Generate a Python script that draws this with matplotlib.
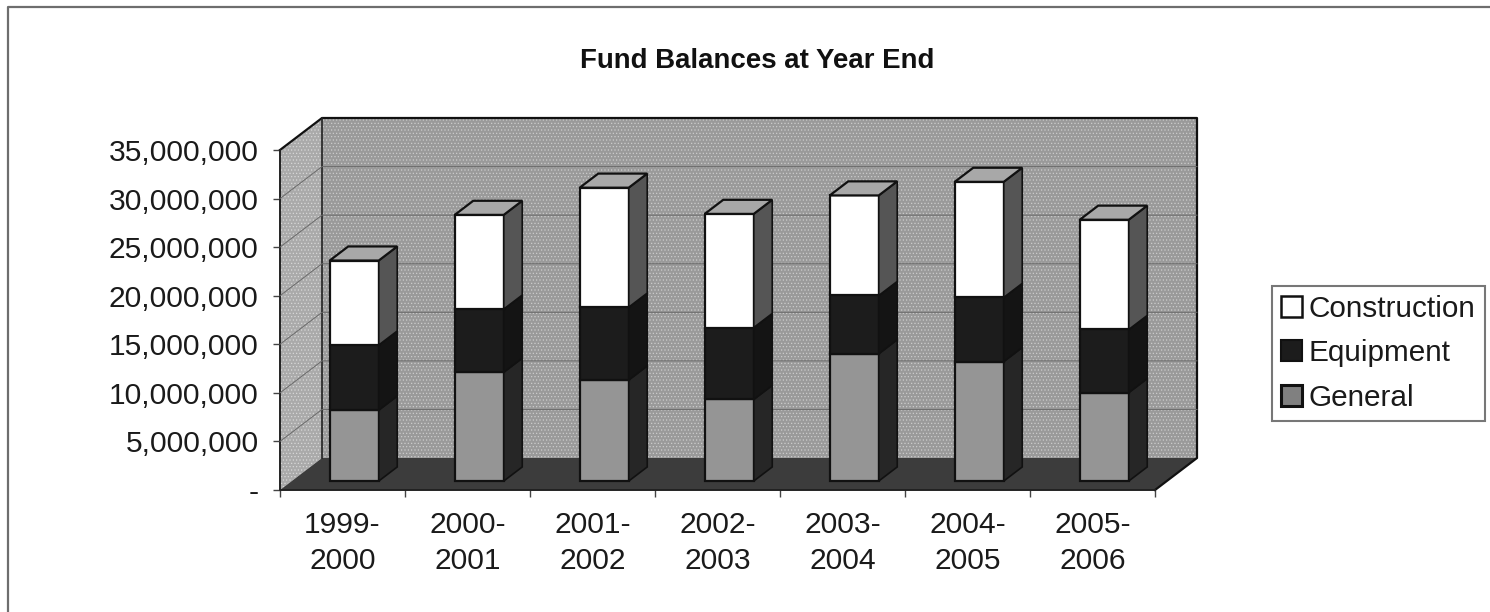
import matplotlib
matplotlib.use('Agg')
import matplotlib.pyplot as plt
import numpy as np
from matplotlib.lines import Line2D
from matplotlib.patches import Patch

plt.rcParams['font.family'] = ['Liberation Sans', 'DejaVu Sans']
plt.rcParams['hatch.linewidth'] = 0.5

# Valores
years = ['1999-\n2000', '2000-\n2001', '2001-\n2002', '2002-\n2003',
         '2003-\n2004', '2004-\n2005', '2005-\n2006']
general = np.array([7.3, 11.2, 10.4, 8.4, 13.1, 12.3, 9.1]) * 1e6
equipment = np.array([6.7, 6.5, 7.5, 7.4, 6.0, 6.6, 6.5]) * 1e6
construction = np.array([8.7, 9.7, 12.3, 11.7, 10.3, 11.9, 11.3]) * 1e6
y_ticks = [0, 5000000, 10000000, 15000000, 20000000, 25000000, 30000000, 35000000]

W, H = 1490, 612
fig = plt.figure(figsize=(W / 100, H / 100), dpi=100)
ax = fig.add_axes([280 / W, 1 - 490 / H, 875 / W, 340 / H])
ax.set_xlim(0, len(years))
ax.set_ylim(0, 35e6)
for s in ax.spines.values():
    s.set_visible(False)
ax.patch.set_visible(False)

# Vetor de profundidade do "3D" em unidades dos eixos
dx = 42 / 125
dy = 32 / 340 * 35e6
n = len(years)
ymax = 35e6
wall = '#9a9a9a'
side = '#aaaaaa'

# parede de tras, parede lateral e chao
ax.fill([dx, n + dx, n + dx, dx], [dy, dy, ymax + dy, ymax + dy], facecolor=wall,
        edgecolor='#cccccc', hatch='.....', lw=0, clip_on=False, zorder=1)
ax.fill([0, dx, dx, 0], [0, dy, ymax + dy, ymax], facecolor=side,
        edgecolor='#d8d8d8', hatch='.....', lw=0, clip_on=False, zorder=1)
ax.fill([0, n, n + dx, dx], [0, 0, dy, dy], color='#3c3c3c', lw=0, clip_on=False, zorder=1)

# contornos
ax.plot([0, dx, n + dx, n + dx, n], [ymax, ymax + dy, ymax + dy, dy, 0], color='#111111',
        lw=1.6, clip_on=False, zorder=2)
ax.plot([dx, dx], [ymax + dy, dy], color='#222222', lw=1.2, clip_on=False, zorder=2)
ax.plot([0, 0, n], [ymax, 0, 0], color='#222222', lw=1.4, clip_on=False, zorder=2)

# linhas de grade
for t in y_ticks[1:-1]:
    ax.plot([0, dx, n + dx], [t, t + dy, t + dy], color='#6a6a6a', lw=0.7,
            clip_on=False, zorder=2)

# barras
bw = 49 / 125
d0, d1 = 0.28, 0.72
x0 = np.arange(n) + 0.5 + d0 * dx - bw / 2
series = [(general, '#959595', '#262626'),
          (equipment, '#1c1c1c', '#141414'),
          (construction, '#ffffff', '#555555')]
ddx = (d1 - d0) * dx
ddy = (d1 - d0) * dy
for i in range(n):
    base = d0 * dy
    for vals, front, lateral in series:
        v = vals[i]
        ax.bar(x0[i], v, bw, bottom=base, align='edge', color=front, edgecolor='#111111',
               lw=1.6, zorder=3 + i)
        ax.fill([x0[i] + bw, x0[i] + bw + ddx, x0[i] + bw + ddx, x0[i] + bw],
                [base, base + ddy, base + v + ddy, base + v],
                facecolor=lateral, edgecolor='#111111', lw=1.2, zorder=3 + i)
        base += v
    ax.fill([x0[i], x0[i] + ddx, x0[i] + bw + ddx, x0[i] + bw],
            [base, base + ddy, base + ddy, base],
            facecolor='#a8a8a8', edgecolor='#111111', lw=1.6, zorder=3 + i)

# eixos
ax.set_yticks(y_ticks)
ax.set_yticklabels(['-' if t == 0 else f'{t:,}' for t in y_ticks], fontsize=21.6, color='#1a1a1a')
ax.tick_params(axis='y', length=5, width=1, color='#444444', pad=10.5)
ax.set_xticks(np.arange(n + 1))
ax.set_xticklabels([])
ax.set_xticks(np.arange(n) + 0.5, minor=True)
ax.set_xticklabels(years, minor=True, fontsize=21.6, color='#1a1a1a', linespacing=1.38)
ax.tick_params(axis='x', which='major', length=5, width=1, color='#444444')
ax.tick_params(axis='x', which='minor', length=0, pad=15)

fig.text(757 / W, 1 - 61 / H, 'Fund Balances at Year End', ha='center', va='center',
         fontsize=19.9, fontweight='bold', color='#111111')

# legenda
handles = [Patch(facecolor='white', edgecolor='#111111', lw=1.8),
           Patch(facecolor='#1c1c1c', edgecolor='#111111', lw=1.5),
           Patch(facecolor='#808080', edgecolor='#111111', lw=2.2)]
leg = fig.legend(handles, ['Construction', 'Equipment', 'General'], loc='upper left',
                 bbox_to_anchor=(1272 / W, 1 - 286 / H), bbox_transform=fig.transFigure,
                 fontsize=21.4, fancybox=False, framealpha=1, edgecolor='#777777',
                 handlelength=0.72, handleheight=0.72, handletextpad=0.22,
                 labelspacing=0.55, borderpad=0.3, borderaxespad=0, labelcolor='#1a1a1a')
leg.get_frame().set_linewidth(1.5)

# moldura externa: so topo e esquerda aparecem no original
fig.add_artist(Line2D([8 / W, 8 / W, 1], [0, 1 - 7 / H, 1 - 7 / H], transform=fig.transFigure,
                      color='#6e6e6e', lw=1.6))

fig.savefig('out.png', dpi=100)
